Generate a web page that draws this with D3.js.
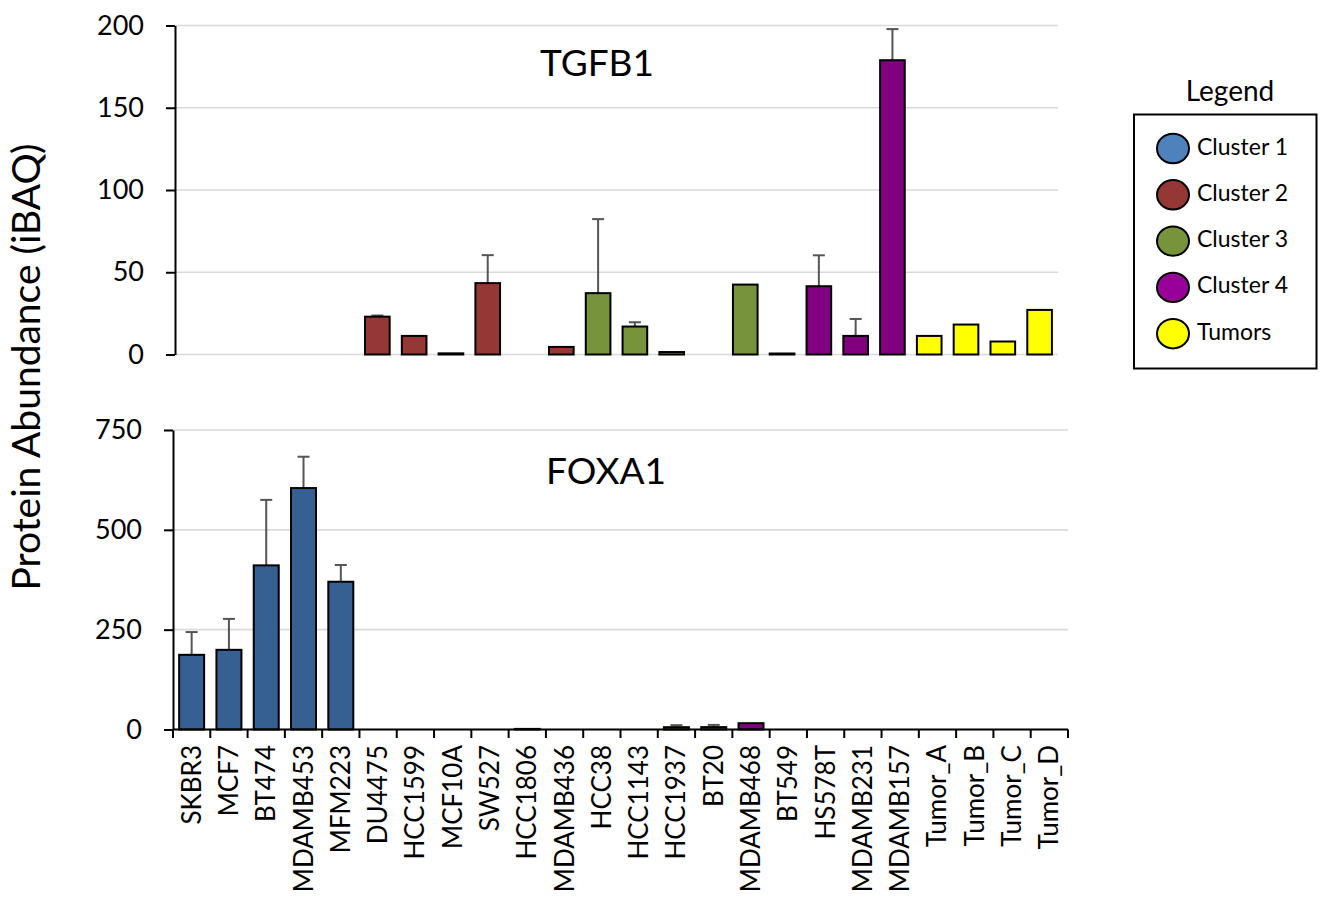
<!DOCTYPE html>
<html>
<head>
<meta charset="utf-8">
<script src="https://cdn.jsdelivr.net/npm/d3@7/dist/d3.min.js"></script>
<style>
  html, body { margin: 0; padding: 0; background: #fff; }
  svg { display: block; font-family: Lato, "Open Sans", sans-serif; }
</style>
</head>
<body>
<svg id="chart" width="1322" height="897"></svg>
<script>
// Cell lines and tumour samples along the shared x axis
const categories = ["SKBR3","MCF7","BT474","MDAMB453","MFM223","DU4475","HCC1599","MCF10A","SW527","HCC1806",
  "MDAMB436","HCC38","HCC1143","HCC1937","BT20","MDAMB468","BT549","HS578T","MDAMB231","MDAMB157",
  "Tumor_A","Tumor_B","Tumor_C","Tumor_D"];

// TGFB1 abundance (iBAQ) and upper error
const tgfb1Values = [0,0,0,0,0,23,11.3,0.7,43.4,0,4.6,37.3,17,1.5,0,42.5,0.6,41.5,11.3,178.9,11.3,18.2,7.9,27.1];
const tgfb1Errors = [0,0,0,0,0,0.7,0,0,17,0,0,45,2.6,0,0,0,0,18.8,10.3,18.9,0,0,0,0];
const tgfb1Groups = ["Cluster 1","Cluster 1","Cluster 1","Cluster 1","Cluster 1",
  "Cluster 2","Cluster 2","Cluster 2","Cluster 2","Cluster 2","Cluster 2",
  "Cluster 3","Cluster 3","Cluster 3","Cluster 3","Cluster 3",
  "Cluster 4","Cluster 4","Cluster 4","Cluster 4",
  "Tumors","Tumors","Tumors","Tumors"];

// FOXA1 abundance (iBAQ) and upper error
const foxa1Values = [187,199.5,411,604.6,370,0,0,0,0,1.5,0,0,0,5.8,6,15.8,0,0,0,0,0,0,0,0];
const foxa1Errors = [57,77.5,164,78.5,42,0,0,0,0,0,0,0,0,5,5.5,0,0,0,0,0,0,0,0,0];
const foxa1Groups = ["Cluster 1","Cluster 1","Cluster 1","Cluster 1","Cluster 1",
  "Cluster 2","Cluster 2","Cluster 2","Cluster 2","Cluster 2","Cluster 2",
  "Cluster 3","Cluster 3","Cluster 3","Cluster 3","Cluster 4",
  "Cluster 4","Cluster 4","Cluster 4","Cluster 4",
  "Tumors","Tumors","Tumors","Tumors"];

const tgfb1Ticks = [0, 50, 100, 150, 200];
const foxa1Ticks = [0, 250, 500, 750];

const legendGroups = ["Cluster 1","Cluster 2","Cluster 3","Cluster 4","Tumors"];
const barColors = ["#376092","#953735","#77933C","#800080","#FFFF00"];
const legendColors = ["#4F81BD","#953735","#77933C","#990099","#FFFF00"];

const svg = d3.select("#chart");
const barColor = d3.scaleOrdinal().domain(legendGroups).range(barColors);
const legendColor = d3.scaleOrdinal().domain(legendGroups).range(legendColors);

function panel(cfg) {
  const x = d3.scaleBand().domain(categories).range([cfg.left, cfg.right]).padding(0);
  const y = d3.scaleLinear().domain([0, cfg.max]).range([cfg.bottom, cfg.top]);
  const bw = x.bandwidth() * 0.67;
  const off = (x.bandwidth() - bw) / 2;
  const g = svg.append("g");

  // horizontal gridlines
  g.append("g").selectAll("line").data(cfg.ticks).join("line")
    .attr("x1", cfg.left).attr("x2", cfg.right)
    .attr("y1", d => y(d)).attr("y2", d => y(d))
    .attr("stroke", "#D9D9D9").attr("stroke-width", 1.6);

  const rows = categories.map((c, i) => ({c, v: cfg.values[i], e: cfg.errors[i], grp: cfg.groups[i]}));

  // error bars (upper only)
  const eb = g.append("g").attr("stroke", "#555").attr("stroke-width", 2);
  rows.filter(d => d.e > 0).forEach(d => {
    const cx = x(d.c) + x.bandwidth() / 2;
    eb.append("line").attr("x1", cx).attr("x2", cx).attr("y1", y(d.v)).attr("y2", y(d.v + d.e));
    eb.append("line").attr("x1", cx - 6).attr("x2", cx + 6).attr("y1", y(d.v + d.e)).attr("y2", y(d.v + d.e));
  });

  // bars
  g.append("g").selectAll("rect").data(rows.filter(d => d.v > 0)).join("rect")
    .attr("x", d => x(d.c) + off)
    .attr("width", bw)
    .attr("y", d => y(d.v))
    .attr("height", d => y(0) - y(d.v))
    .attr("fill", d => barColor(d.grp))
    .attr("stroke", "#000").attr("stroke-width", 2);

  // y axis
  const ya = d3.axisLeft(y).tickValues(cfg.ticks).tickSize(9).tickPadding(22).tickSizeOuter(0);
  const yg = g.append("g").attr("transform", `translate(${cfg.left},0)`).call(ya);
  yg.select(".domain").attr("stroke", "#000").attr("stroke-width", 2);
  yg.selectAll(".tick line").attr("stroke", "#000").attr("stroke-width", 2);
  yg.selectAll(".tick text").attr("font-size", 27).attr("fill", "#000").attr("font-family", "Lato");

  // panel title
  g.append("text").attr("x", cfg.titleX).attr("y", cfg.titleY)
    .attr("text-anchor", "middle").attr("font-size", 37).attr("fill", "#000").text(cfg.title);

  return {x, y, g};
}

panel({left: 175, right: 1058, top: 25.5, bottom: 354.5, max: 200, ticks: tgfb1Ticks,
  values: tgfb1Values, errors: tgfb1Errors, groups: tgfb1Groups, title: "TGFB1", titleX: 597, titleY: 76});

const bottom = panel({left: 173, right: 1068, top: 430, bottom: 729.5, max: 750, ticks: foxa1Ticks,
  values: foxa1Values, errors: foxa1Errors, groups: foxa1Groups, title: "FOXA1", titleX: 606, titleY: 484});

// category axis under the lower panel
const bx = bottom.x;
const xg = bottom.g.append("g");
xg.append("line").attr("x1", 173).attr("x2", 1068).attr("y1", 729.5).attr("y2", 729.5)
  .attr("stroke", "#000").attr("stroke-width", 2);
const edges = categories.map(c => bx(c)).concat([bx.range()[1]]);
xg.selectAll("line.tk").data(edges).join("line").attr("class", "tk")
  .attr("x1", d => d).attr("x2", d => d).attr("y1", 729.5).attr("y2", 738)
  .attr("stroke", "#000").attr("stroke-width", 2);
xg.selectAll("text").data(categories).join("text")
  .attr("transform", d => `translate(${bx(d) + bx.bandwidth() / 2 + 9},745) rotate(-90)`)
  .attr("text-anchor", "end")
  .attr("font-size", 26).attr("fill", "#000")
  .text(d => d);

// shared y axis title
svg.append("text")
  .attr("transform", "translate(40,367) rotate(-90)")
  .attr("text-anchor", "middle").attr("font-size", 39).attr("fill", "#000")
  .text("Protein Abundance (iBAQ)");

// legend
const lg = svg.append("g");
lg.append("text").attr("x", 1230).attr("y", 101).attr("text-anchor", "middle")
  .attr("font-size", 28).attr("fill", "#000").text("Legend");
lg.append("rect").attr("x", 1134).attr("y", 114.5).attr("width", 182.5).attr("height", 254)
  .attr("fill", "#fff").attr("stroke", "#000").attr("stroke-width", 2);
const items = lg.selectAll("g.item").data(legendGroups).join("g").attr("class", "item")
  .attr("transform", (d, i) => `translate(1173,${148.5 + i * 46.3})`);
items.append("ellipse").attr("rx", 16).attr("ry", 14.7)
  .attr("fill", d => legendColor(d)).attr("stroke", "#000").attr("stroke-width", 2);
items.append("text").attr("x", 24).attr("y", 6).attr("font-size", 23).attr("fill", "#000").text(d => d);
</script>
</body>
</html>
